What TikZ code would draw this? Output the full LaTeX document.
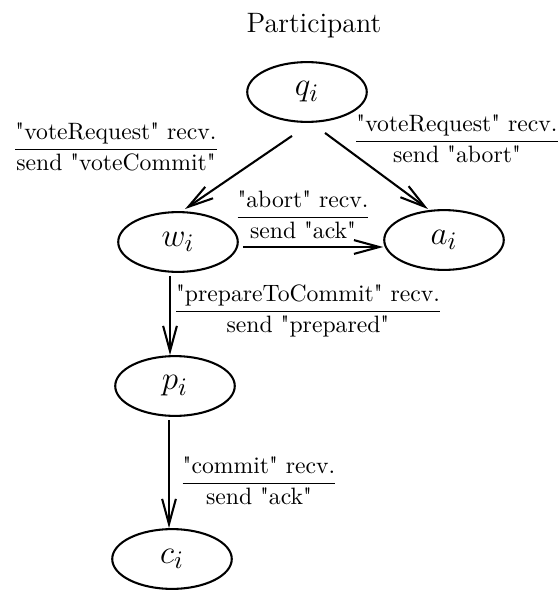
\documentclass[tikz,border=0pt]{standalone}
\usepackage{fontspec}
\usepackage{amsmath}
\setmainfont{Latin Modern Roman}[Ligatures=TeXOff]
\usetikzlibrary{shapes.geometric,arrows.meta,calc}

% edge label: condition over action, separated by a rule
\newcommand{\trans}[2]{$\dfrac{\text{#1}}{\text{#2}}$}

\begin{document}
\begin{tikzpicture}[x=0.435pt,y=-0.435pt,
  state/.style={ellipse,draw,line width=0.9pt,inner sep=0pt,
    minimum width=52pt,minimum height=26pt,
    font=\fontsize{15}{18}\selectfont},
  trlabel/.style={anchor=base,inner sep=0pt,font=\fontsize{10.3}{12}\selectfont},
  edge/.style={line width=0.9pt,-{Straight Barb[length=11pt,width=6pt,line width=0.9pt]}}]
\useasboundingbox (0,0) rectangle (559,590);

\node[anchor=base,font=\fontsize{12.2}{14}\selectfont] (title) at (314,32) {Participant};

\node[state] (q) at (307,92) {$q_i$};
\node[state] (w) at (178,242) {$w_i$};
\node[state] (a) at (444,240) {$a_i$};
\node[state] (p) at (175,386) {$p_i$};
\node[state] (c) at (172,559) {$c_i$};

\draw[edge] ($(q.south)+(-15,13)$) -- ($(w.north)+(7,-2)$);
\draw[edge] ($(q.south)+(18,10)$) -- ($(a.north)+(-16,0)$);
\draw[edge] ($(w.east)+(4,5)$) -- ($(a.west)+(0,7)$);
\draw[edge] ($(w.south)+(-8,3)$) -- ($(p.north)+(-5,0)$);
\draw[edge] ($(p.south)+(-6,3)$) -- ($(c.north)+(-3,0)$);

\node[trlabel] (l1) at (116,155) {\trans{"voteRequest" recv.}{send "voteCommit"}};
\node[trlabel] (l2) at (457,147) {\trans{"voteRequest" recv.}{send "abort"}};
\node[trlabel] (l3) at (303,223) {\trans{"abort" recv.}{send "ack"}};
\node[trlabel] (l4) at (308,317) {\trans{"prepareToCommit" recv.}{send "prepared"}};
\node[trlabel] (l5) at (259,489) {\trans{"commit" recv.}{send "ack"}};
\end{tikzpicture}
\end{document}
